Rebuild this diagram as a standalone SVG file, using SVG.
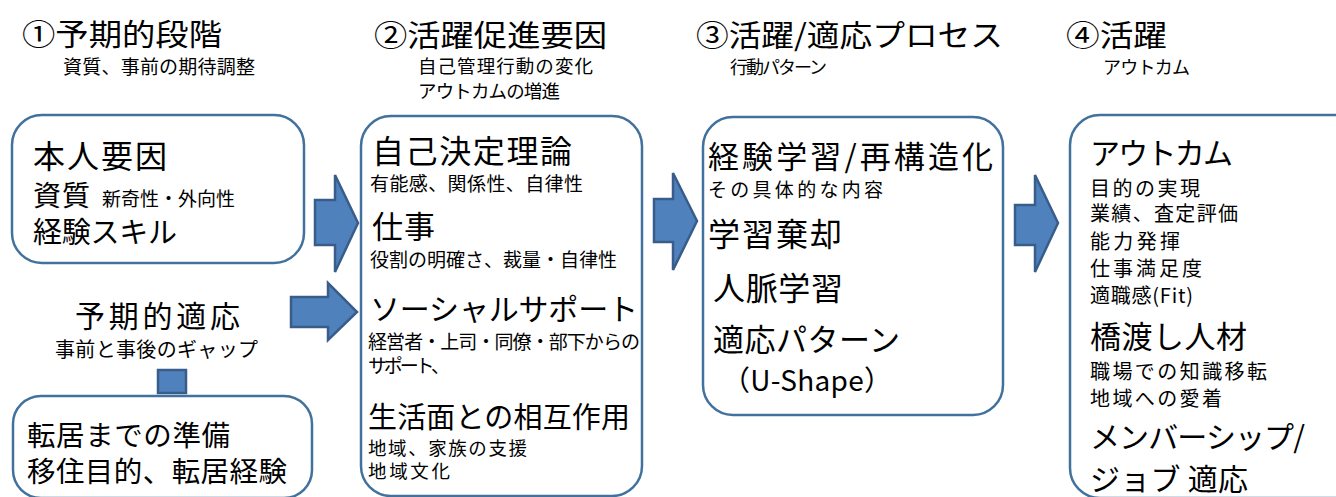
<svg xmlns="http://www.w3.org/2000/svg" width="1336" height="497" viewBox="0 0 1336 497">
<style>
text{font-family:"Noto Sans CJK JP","Noto Sans CJK SC",sans-serif;fill:#000;}
.h{font-size:30px;}
.s{font-size:19px;}
.m{font-size:20px;}
.b{font-size:31px;}
.box{fill:#fff;stroke:#41719C;stroke-width:2.5;}
.arr{fill:#4F81BD;stroke:#385D8A;stroke-width:2.5;stroke-linejoin:miter;}
</style>
<rect width="1336" height="497" fill="#fff"/>

<g id="headers">
<text class="h" x="22" y="45" textLength="200" lengthAdjust="spacingAndGlyphs">①予期的段階</text>
<text class="s" x="63" y="74" textLength="192" lengthAdjust="spacing">資質、事前の期待調整</text>
<text class="h" x="374" y="46" textLength="233" lengthAdjust="spacingAndGlyphs">②活躍促進要因</text>
<text x="418" y="73" style="font-size:18.5px" textLength="175" lengthAdjust="spacing">自己管理行動の変化</text>
<text x="418" y="98" style="font-size:18.5px" textLength="142" lengthAdjust="spacing">アウトカムの増進</text>
<text class="h" x="696" y="46" textLength="307" lengthAdjust="spacingAndGlyphs">③活躍/適応プロセス</text>
<text x="730" y="74" style="font-size:18px" textLength="97" lengthAdjust="spacing">行動パターン</text>
<text class="h" x="1066" y="46" textLength="101" lengthAdjust="spacingAndGlyphs">④活躍</text>
<text x="1103" y="74" style="font-size:18px" textLength="87" lengthAdjust="spacing">アウトカム</text>
</g>

<g id="connectors">
<polygon class="arr" points="315,200 335,200 335,175 358,223 335,272 335,245 315,245"/>
<polygon class="arr" points="291,297 328,297 328,283 357,312 328,340 328,327 291,327"/>
<polygon class="arr" points="654,199 673,199 673,173 697,221 673,270 673,242 654,242"/>
<polygon class="arr" points="1015,205 1035,205 1035,175 1058,223 1035,272 1035,245 1015,245"/>
<rect class="arr" x="158" y="370" width="28" height="23"/>
</g>

<g id="node-honnin">
<rect class="box" x="12" y="115" width="292" height="148" rx="30"/>
<text x="33" y="168" style="font-size:32px" textLength="134" lengthAdjust="spacing">本人要因</text>
<text x="33" y="206" style="font-size:28px" textLength="57" lengthAdjust="spacing">資質</text>
<text class="s" x="102" y="206" textLength="133" lengthAdjust="spacing">新奇性・外向性</text>
<text x="33" y="243" style="font-size:29px" textLength="144" lengthAdjust="spacing">経験スキル</text>
</g>

<g id="node-yoki">
<text class="h" x="75" y="327" textLength="165" lengthAdjust="spacing">予期的適応</text>
<text class="m" x="55" y="357" textLength="203" lengthAdjust="spacing">事前と事後のギャップ</text>
</g>

<g id="node-tenkyo">
<rect class="box" x="13" y="396" width="299" height="102" rx="28"/>
<text x="27" y="446" style="font-size:28.5px" textLength="203" lengthAdjust="spacing">転居までの準備</text>
<text x="27" y="482" style="font-size:28.5px" textLength="260" lengthAdjust="spacing">移住目的、転居経験</text>
</g>

<g id="node-sokushin">
<rect class="box" x="361" y="116" width="281" height="380" rx="30"/>
<text x="372" y="163" style="font-size:32px" textLength="200" lengthAdjust="spacing">自己決定理論</text>
<text class="s" x="370" y="191" textLength="213" lengthAdjust="spacing">有能感、関係性、自律性</text>
<text class="b" x="372" y="238" textLength="63" lengthAdjust="spacing">仕事</text>
<text class="s" x="370" y="267" textLength="247" lengthAdjust="spacing">役割の明確さ、裁量・自律性</text>
<text class="h" x="370" y="320" textLength="268" lengthAdjust="spacing">ソーシャルサポート</text>
<text class="s" x="368" y="349" textLength="272" lengthAdjust="spacing">経営者・上司・同僚・部下からの</text>
<text class="s" x="368" y="373" textLength="82" lengthAdjust="spacing">サポート、</text>
<text x="368" y="428" style="font-size:29px" textLength="262" lengthAdjust="spacing">生活面との相互作用</text>
<text x="368" y="455" style="font-size:18.5px" textLength="159" lengthAdjust="spacing">地域、家族の支援</text>
<text x="368" y="478" style="font-size:18.5px" textLength="82" lengthAdjust="spacing">地域文化</text>
</g>

<g id="node-process">
<rect class="box" x="703" y="117" width="300" height="298" rx="30"/>
<text class="b" x="708" y="168" textLength="285" lengthAdjust="spacing">経験学習/再構造化</text>
<text class="s" x="708" y="197" textLength="175" lengthAdjust="spacing">その具体的な内容</text>
<text x="708" y="246" style="font-size:32px" textLength="134" lengthAdjust="spacing">学習棄却</text>
<text x="713" y="300" style="font-size:32px" textLength="130" lengthAdjust="spacing">人脈学習</text>
<text class="b" x="713" y="351" textLength="187" lengthAdjust="spacing">適応パターン</text>
<text x="722" y="391" style="font-size:28px" textLength="170" lengthAdjust="spacing">（U-Shape）</text>
</g>

<g id="node-outcome">
<rect class="box" x="1070" y="115" width="300" height="383" rx="30"/>
<text class="h" x="1090" y="164" textLength="143" lengthAdjust="spacing">アウトカム</text>
<text class="m" x="1090" y="196" textLength="110" lengthAdjust="spacing">目的の実現</text>
<text class="m" x="1090" y="221" textLength="148" lengthAdjust="spacing">業績、査定評価</text>
<text class="m" x="1090" y="249" textLength="90" lengthAdjust="spacing">能力発揮</text>
<text class="m" x="1090" y="276" textLength="112" lengthAdjust="spacing">仕事満足度</text>
<text class="m" x="1090" y="303" textLength="103" lengthAdjust="spacing">適職感(Fit)</text>
<text class="b" x="1090" y="348" textLength="157" lengthAdjust="spacing">橋渡し人材</text>
<text class="m" x="1090" y="379" textLength="177" lengthAdjust="spacing">職場での知識移転</text>
<text class="m" x="1090" y="406" textLength="132" lengthAdjust="spacing">地域への愛着</text>
<text class="h" x="1090" y="448" textLength="215" lengthAdjust="spacing">メンバーシップ/</text>
<text class="h" x="1090" y="490" textLength="158" lengthAdjust="spacing">ジョブ 適応</text>
</g>
</svg>
